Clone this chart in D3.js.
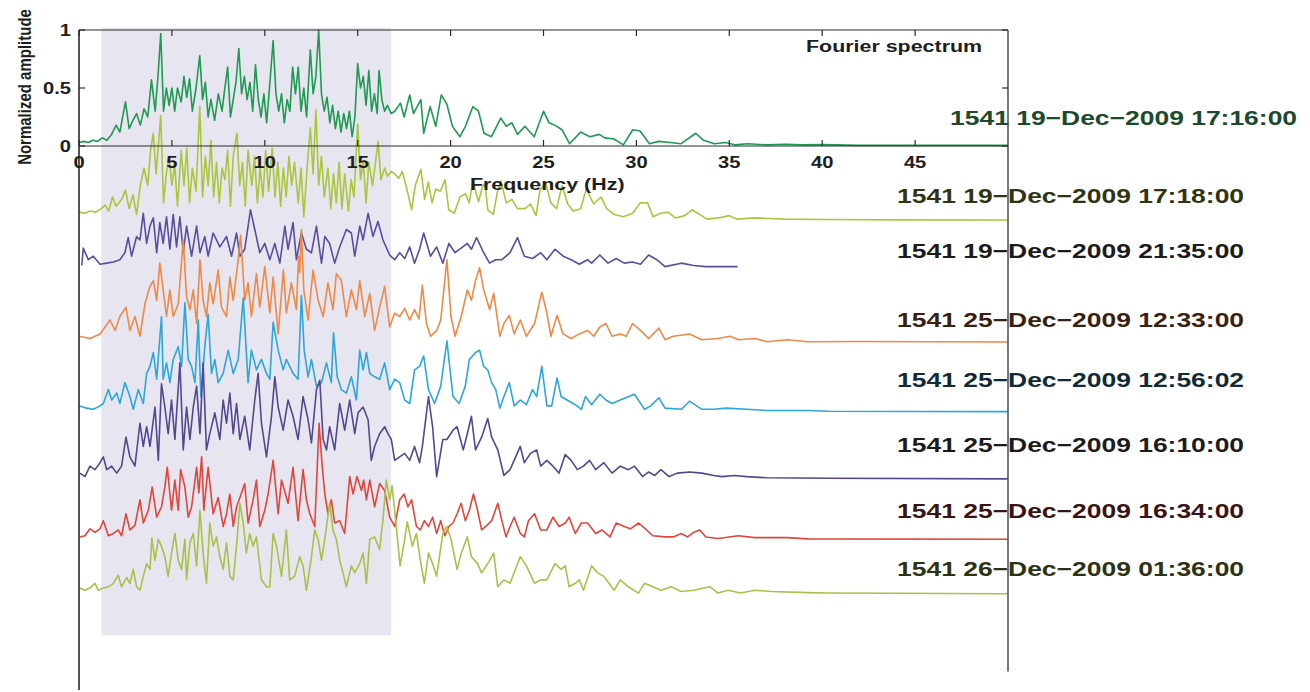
<!DOCTYPE html>
<html>
<head>
<meta charset="utf-8">
<script src="https://cdn.jsdelivr.net/npm/d3@7/dist/d3.min.js"></script>
<style>
  html, body { margin: 0; padding: 0; background: #fff; }
  svg { display: block; }
  text { font-family: "Liberation Sans", Arial, Helvetica, sans-serif; font-weight: bold; }
</style>
</head>
<body>
<svg id="chart" width="1310" height="692"></svg>
<script>
// Fourier spectra of station 1541 records, each normalised to its own maximum
// and stacked downwards as a waterfall. Values are [frequency (Hz), amplitude].

const spec1 = [[0,.03],[.25,.04],[.5,.03],[.75,.05],[1,.04],[1.25,.07],[1.5,.05],[1.75,.1],[2,.18],[2.2,.12],[2.5,.38],[2.7,.15],[2.9,.22],[3.1,.28],[3.3,.18],[3.5,.32],[3.7,.25],[3.9,.57],[4.1,.3],[4.25,.6],[4.4,.97],[4.55,.3],[4.7,.5],[4.85,.35],[5,.5],[5.15,.3],[5.3,.5],[5.5,.38],[5.65,.6],[5.8,.42],[5.95,.58],[6.1,.3],[6.3,.5],[6.5,.78],[6.65,.4],[6.8,.55],[6.95,.25],[7.1,.4],[7.3,.22],[7.5,.45],[7.7,.3],[7.85,.5],[8,.68],[8.15,.25],[8.3,.4],[8.45,.55],[8.6,.84],[8.75,.45],[8.9,.6],[9.05,.4],[9.2,.55],[9.35,.3],[9.5,.7],[9.65,.4],[9.8,.25],[9.95,.45],[10.1,.2],[10.25,.5],[10.45,.91],[10.6,.45],[10.75,.3],[10.9,.45],[11.05,.2],[11.2,.4],[11.35,.3],[11.5,.68],[11.65,.45],[11.8,.68],[11.95,.3],[12.1,.5],[12.25,.25],[12.45,.83],[12.6,.45],[12.75,.6],[12.9,1],[13.05,.45],[13.2,.3],[13.35,.42],[13.5,.2],[13.65,.35],[13.8,.15],[13.95,.3],[14.1,.12],[14.25,.28],[14.4,.15],[14.55,.3],[14.7,.08],[14.85,.25],[15,.71],[15.15,.5],[15.3,.6],[15.45,.35],[15.6,.65],[15.75,.3],[15.9,.45],[16.05,.28],[16.15,.65],[16.3,.4],[16.45,.3],[16.6,.35],[16.8,.28],[17,.3],[17.3,.37],[17.5,.25],[17.8,.44],[18,.28],[18.4,.4],[18.55,.11],[18.9,.34],[19.2,.17],[19.5,.44],[19.8,.36],[20.1,.17],[20.5,.08],[20.8,.17],[21.2,.34],[21.5,.3],[21.8,.11],[22.2,.08],[22.7,.24],[23,.17],[23.3,.2],[23.6,.1],[24,.17],[24.5,.08],[25,.3],[25.3,.2],[25.6,.18],[26,.14],[26.4,.02],[27,.12],[27.5,.08],[28,.1],[28.3,.07],[28.8,.06],[29.3,.01],[29.8,.14],[30.2,.13],[30.7,.02],[31.2,.04],[31.8,.03],[32.4,.02],[33.2,.11],[33.6,.05],[34.2,.02],[34.8,.03],[35.3,.01],[36,.02],[37,.01],[38,.015],[39,.01],[40,.012],[42,.005],[45,.005],[50,.005]];

const spec2 = [[0,.07],[.3,.06],[.6,.08],[.9,.07],[1.2,.1],[1.4,.13],[1.6,.08],[1.8,.2],[2,.12],[2.3,.18],[2.5,.26],[2.7,.1],[2.9,.22],[3.1,.05],[3.3,.3],[3.5,.45],[3.7,.3],[3.85,.6],[4,.75],[4.15,.4],[4.4,.9],[4.55,.15],[4.7,.4],[4.85,.55],[5,.3],[5.15,.48],[5.3,.12],[5.5,.6],[5.65,.3],[5.8,.62],[5.95,.15],[6.1,.45],[6.3,.25],[6.5,.98],[6.65,.2],[6.8,.55],[6.95,.3],[7.1,.69],[7.25,.2],[7.4,.5],[7.55,.15],[7.7,.45],[7.85,.35],[8,.6],[8.15,.12],[8.3,.55],[8.5,.75],[8.65,.3],[8.8,.5],[8.95,.12],[9.1,.6],[9.3,.3],[9.45,.55],[9.6,.15],[9.75,.45],[9.9,.2],[10.05,.6],[10.2,.25],[10.4,.62],[10.55,.2],[10.7,.5],[10.85,.12],[11,.45],[11.15,.2],[11.3,.55],[11.45,.3],[11.6,.5],[11.8,.15],[11.95,.45],[12.1,.03],[12.3,.5],[12.45,.8],[12.6,.4],[12.75,.95],[12.9,.3],[13.05,.55],[13.2,.2],[13.4,.45],[13.55,.1],[13.7,.4],[13.85,.15],[14,.5],[14.15,.1],[14.3,.4],[14.5,.08],[14.65,.35],[14.8,.2],[15,.83],[15.15,.35],[15.3,.5],[15.45,.15],[15.6,.5],[15.8,.3],[16.1,.68],[16.25,.35],[16.45,.45],[16.6,.38],[16.8,.42],[17,.4],[17.2,.36],[17.4,.42],[17.6,.3],[17.9,.09],[18.1,.3],[18.4,.44],[18.6,.18],[18.8,.33],[19,.15],[19.2,.27],[19.45,.25],[19.7,.35],[19.9,.09],[20.2,.06],[20.5,.2],[20.8,.23],[21,.15],[21.2,.34],[21.5,.16],[21.7,.28],[21.85,.32],[22,.09],[22.3,.05],[22.5,.23],[22.7,.34],[23,.15],[23.3,.18],[23.6,.1],[24,.1],[24.3,.14],[24.6,.04],[24.8,.25],[25.1,.33],[25.4,.15],[25.7,.1],[26,.3],[26.3,.14],[26.6,.08],[27,.1],[27.3,.27],[27.7,.14],[28.1,.2],[28.4,.1],[28.8,.05],[29.3,.03],[29.8,.06],[30.2,.15],[30.6,.15],[30.9,.03],[31.3,.06],[31.7,.07],[32.1,.02],[32.6,.04],[33,.09],[33.4,.05],[33.8,.01],[34.4,.02],[35,.04],[35.4,.01],[36.4,.02],[38,.01],[40,.006],[44,.003],[50,.002]];

const spec3 = [[.15,.02],[.23,.17],[.5,.07],[.77,.1],[1.13,.03],[1.49,.04],[1.85,.05],[2.2,.07],[2.47,.13],[2.65,.26],[2.83,.1],[3.1,.27],[3.28,.24],[3.46,.47],[3.64,.21],[3.82,.36],[4,.43],[4.18,.13],[4.35,.39],[4.53,.21],[4.71,.44],[4.89,.16],[5.07,.46],[5.25,.18],[5.43,.44],[5.61,.13],[5.79,.36],[6.06,.1],[6.33,.36],[6.51,.13],[6.77,.27],[6.95,.1],[7.22,.3],[7.58,.18],[7.94,.27],[8.21,.1],[8.48,.3],[8.66,.1],[8.92,.16],[9.23,.5],[9.46,.33],[9.73,.13],[10,.21],[10.27,.07],[10.54,.21],[10.81,.04],[11.08,.36],[11.25,.16],[11.52,.39],[11.7,.07],[11.97,.3],[12.24,.16],[12.51,.13],[12.78,.36],[13.05,.04],[13.23,.27],[13.49,.21],[13.76,.04],[14.03,.18],[14.39,.33],[14.66,.3],[14.84,.1],[15.11,.36],[15.29,.24],[15.56,.47],[15.82,.27],[16.09,.4],[16.36,.24],[16.72,.11],[16.99,.07],[17.26,.13],[17.53,.08],[17.8,.18],[18.06,.04],[18.33,.16],[18.55,.3],[18.92,.1],[19.25,.18],[19.58,.04],[19.91,.21],[20.24,.13],[20.57,.17],[20.9,.21],[21.12,.16],[21.4,.26],[21.78,.13],[22.1,.04],[22.43,.07],[22.76,.07],[23.2,.13],[23.6,.26],[23.97,.1],[24.41,.08],[24.85,.13],[25.18,.07],[25.62,.16],[26.06,.1],[26.49,.07],[26.93,.03],[27.37,.07],[27.59,.04],[28.03,.11],[28.47,.04],[28.91,.08],[29.35,.04],[29.79,.05],[30.22,.03],[30.66,.11],[31.1,.07],[31.54,.01],[32.42,.04],[33.08,.02],[33.74,.01],[35.45,.01]];

const spec4 = [[0,.05],[.59,.03],[1.13,.07],[1.4,.13],[1.67,.19],[1.94,.1],[2.2,.22],[2.53,.3],[2.74,.1],[3.01,.22],[3.28,.05],[3.55,.33],[3.82,.48],[4,.53],[4.18,.36],[4.35,.68],[4.53,.45],[4.71,.22],[4.89,.45],[5.07,.22],[5.34,.33],[5.61,.88],[5.79,.39],[5.97,.28],[6.15,.45],[6.33,.16],[6.51,.71],[6.68,.36],[6.86,.22],[7.04,.51],[7.22,.33],[7.49,.62],[7.67,.3],[7.94,.22],[8.12,.56],[8.3,.36],[8.57,.71],[8.7,.92],[8.92,.36],[9.1,.51],[9.28,.22],[9.55,.59],[9.73,.3],[10,.65],[10.27,.25],[10.45,.56],[10.72,.07],[11,.62],[11.16,.25],[11.43,.51],[11.7,.28],[11.82,.74],[11.88,.6],[11.97,.97],[12.1,.45],[12.33,.19],[12.6,.62],[12.87,.36],[13.14,.22],[13.4,.51],[13.67,.28],[13.85,.59],[14.12,.53],[14.39,.22],[14.66,.45],[14.93,.28],[15.11,.53],[15.38,.22],[15.65,.42],[15.91,.1],[16.18,.3],[16.45,.48],[16.72,.13],[16.99,.25],[17.26,.22],[17.53,.29],[17.8,.19],[18.06,.28],[18.3,.2],[18.48,.49],[18.7,.16],[18.92,.05],[19.25,.1],[19.47,.19],[19.8,.71],[20.02,.22],[20.24,.05],[20.57,.22],[20.9,.45],[21.12,.36],[21.34,.53],[21.56,.64],[21.78,.45],[22.1,.28],[22.32,.42],[22.65,.05],[22.87,.16],[23.16,.23],[23.42,.07],[23.75,.19],[24.08,.05],[24.52,.16],[24.91,.43],[25.18,.25],[25.4,.05],[25.73,.23],[26.05,.07],[26.49,.03],[26.93,.07],[27.37,.1],[27.7,.05],[28.03,.13],[28.36,.16],[28.69,.05],[29.13,.07],[29.46,.05],[29.79,.16],[30.22,.1],[30.66,.03],[31.21,.12],[31.54,.02],[31.98,.05],[32.86,.07],[33.52,.02],[34.39,.03],[35.05,.05],[35.49,.02],[36.37,.03],[37.03,.003],[38.12,.02],[39.22,.003],[42,.005],[50,0]];

const spec5 = [[0,.05],[.41,.03],[.77,.02],[1.13,.05],[1.31,.07],[1.58,.19],[1.76,.1],[2.03,.16],[2.2,.07],[2.47,.25],[2.74,.13],[2.92,.02],[3.19,.19],[3.46,.07],[3.64,.33],[3.82,.39],[4,.51],[4.18,.28],[4.44,.82],[4.53,.28],[4.71,.42],[4.89,.25],[5.07,.45],[5.34,.56],[5.52,.39],[5.7,.94],[5.88,.45],[6.06,.39],[6.24,.25],[6.42,.79],[6.56,.13],[6.77,.56],[6.95,.84],[7.13,.33],[7.31,.45],[7.49,.25],[7.76,.33],[8.03,.53],[8.3,.33],[8.57,.45],[8.84,.98],[9.1,.25],[9.28,.53],[9.55,.36],[9.82,.45],[10.09,.33],[10.27,.28],[10.45,.77],[10.72,.53],[10.99,.36],[11.16,.45],[11.52,.33],[11.79,.28],[11.97,1],[12.12,.53],[12.33,.3],[12.51,.45],[12.78,.22],[13.05,.25],[13.32,.42],[13.58,.25],[13.7,.68],[13.9,.3],[14.12,.19],[14.39,.16],[14.66,.3],[14.93,.1],[15.11,.53],[15.29,.36],[15.47,.51],[15.65,.33],[15.91,.3],[16.18,.28],[16.45,.42],[16.72,.19],[16.99,.28],[17.26,.25],[17.53,.1],[17.8,.07],[18.06,.36],[18.33,.39],[18.55,.48],[18.81,.19],[19.14,.07],[19.47,.22],[19.8,.61],[20.13,.13],[20.46,.07],[20.79,.22],[21.01,.45],[21.34,.51],[21.56,.53],[21.78,.39],[22,.36],[22.21,.25],[22.43,.19],[22.65,.03],[22.87,.13],[23.16,.25],[23.42,.05],[23.75,.1],[24.08,.06],[24.41,.19],[24.63,.13],[24.91,.39],[25.18,.05],[25.44,.05],[25.73,.29],[25.95,.13],[26.27,.1],[26.71,.06],[27.04,.02],[27.26,.13],[27.59,.06],[28.03,.15],[28.36,.1],[28.69,.07],[29.13,.1],[29.9,.15],[30.44,.02],[30.77,.05],[31.21,.12],[31.54,.03],[32.42,.02],[32.86,.09],[33.52,.02],[34.17,.02],[34.83,.03],[35.93,.02],[37.03,.01],[39.22,.01],[40.32,.003],[50,0]];

const spec6 = [[.05,.05],[.32,.02],[.59,.11],[.86,.08],[1.13,.14],[1.31,.19],[1.49,.08],[1.76,.11],[2.03,.05],[2.29,.11],[2.53,.36],[2.74,.19],[3.01,.11],[3.28,.48],[3.46,.28],[3.64,.45],[3.82,.28],[4.09,.62],[4.27,.16],[4.44,.82],[4.62,.62],[4.8,.39],[4.98,.68],[5.16,.34],[5.43,1],[5.61,.25],[5.79,.62],[5.97,.34],[6.15,.62],[6.33,.8],[6.51,.39],[6.68,1],[6.86,.25],[7.04,.39],[7.31,.57],[7.58,.34],[7.76,.68],[7.94,.48],[8.12,.74],[8.3,.39],[8.48,.65],[8.66,.34],[8.92,.54],[9.19,.25],[9.46,.68],[9.64,.91],[9.82,.48],[10.09,.19],[10.36,.54],[10.54,.88],[10.72,.62],[10.99,.42],[11.25,.68],[11.52,.54],[11.79,.34],[12.06,.71],[12.33,.51],[12.51,.31],[12.78,.77],[12.96,.85],[13.14,.34],[13.32,.25],[13.49,.45],[13.76,.25],[14.03,.65],[14.3,.42],[14.57,.68],[14.84,.39],[15.02,.57],[15.29,.62],[15.56,.51],[15.73,.16],[15.91,.28],[16.18,.39],[16.45,.45],[16.63,.39],[16.81,.34],[16.99,.16],[17.26,.19],[17.53,.22],[17.8,.16],[18.06,.28],[18.33,.14],[18.48,.28],[18.81,.71],[19.03,.45],[19.25,.02],[19.58,.34],[19.8,.34],[20.13,.42],[20.35,.45],[20.68,.25],[20.9,.39],[21.12,.54],[21.34,.25],[21.67,.36],[22,.52],[22.21,.36],[22.54,.25],[22.87,.03],[23.2,.08],[23.42,.16],[23.75,.28],[23.97,.14],[24.3,.22],[24.63,.25],[24.85,.11],[25.18,.16],[25.51,.11],[25.84,.05],[26.17,.21],[26.49,.16],[26.82,.08],[27.15,.11],[27.48,.16],[27.81,.08],[28.25,.14],[28.69,.05],[29.13,.11],[29.57,.08],[29.9,.11],[30.33,.02],[30.66,.06],[30.99,.03],[31.32,.08],[31.76,.02],[32.2,.05],[32.86,.06],[33.52,.05],[34.17,.03],[34.61,.02],[35.27,.03],[35.93,.02],[37.03,.01],[40.32,.006],[50,0]];

const spec7 = [[.05,.02],[.32,.03],[.59,.09],[.86,.06],[1.13,.09],[1.31,.16],[1.58,.03],[1.85,.05],[2.11,.08],[2.29,.03],[2.53,.22],[2.74,.08],[3.01,.12],[3.28,.34],[3.46,.14],[3.73,.25],[3.94,.45],[4.18,.19],[4.44,.28],[4.62,.45],[4.75,.62],[4.98,.25],[5.16,.51],[5.34,.25],[5.47,.6],[5.7,.45],[5.88,.19],[6.06,.28],[6.33,.62],[6.45,.4],[6.6,.71],[6.72,.25],[6.95,.62],[7.22,.22],[7.49,.36],[7.76,.11],[7.94,.22],[8.12,.39],[8.3,.11],[8.48,.28],[8.66,.36],[8.92,.48],[9.1,.14],[9.37,.34],[9.55,.51],[9.73,.11],[10,.25],[10.18,.39],[10.45,.68],[10.72,.22],[10.9,.51],[11.25,.31],[11.52,.62],[11.79,.16],[12.06,.6],[12.24,.34],[12.42,.22],[12.69,.11],[12.92,1],[13.08,.65],[13.23,.39],[13.4,.22],[13.58,.34],[13.76,.14],[14.03,.16],[14.3,.05],[14.57,.54],[14.75,.39],[14.96,.54],[15.2,.42],[15.32,.51],[15.47,.34],[15.65,.51],[15.91,.28],[16.18,.48],[16.45,.42],[16.72,.19],[16.99,.11],[17.26,.34],[17.5,.39],[17.7,.28],[17.9,.34],[18.16,.11],[18.37,.08],[18.59,.16],[18.81,.11],[19.03,.19],[19.25,.05],[19.47,.16],[19.69,.03],[19.91,.11],[20.13,.14],[20.35,.22],[20.57,.31],[20.79,.16],[21.01,.25],[21.23,.39],[21.45,.25],[21.67,.08],[21.89,.11],[22.21,.16],[22.54,.31],[22.76,.16],[22.98,.02],[23.2,.11],[23.42,.19],[23.75,.05],[23.97,.02],[24.19,.16],[24.52,.22],[24.85,.08],[25.18,.08],[25.51,.19],[25.84,.11],[26.17,.14],[26.38,.19],[26.71,.05],[27.04,.14],[27.37,.14],[27.81,.05],[28.14,.08],[28.58,.02],[28.91,.14],[29.35,.11],[29.68,.09],[30.12,.14],[30.55,.08],[30.88,.03],[31.54,.02],[31.98,.02],[32.42,.05],[32.75,.02],[33.08,.06],[33.41,.08],[33.74,.02],[34.39,.006],[35.49,.03],[36.37,.014],[38.12,.014],[39.22,.003],[50,0]];

const spec8 = [[.05,.05],[.32,.03],[.59,.05],[.86,.09],[1.04,.03],[1.31,.05],[1.58,.06],[1.85,.09],[2.11,.16],[2.29,.06],[2.56,.14],[2.74,.09],[2.92,.21],[3.1,.06],[3.28,.03],[3.46,.15],[3.64,.26],[3.82,.21],[3.92,.48],[4.09,.29],[4.27,.47],[4.44,.41],[4.62,.32],[4.8,.15],[4.98,.35],[5.16,.52],[5.34,.29],[5.52,.21],[5.7,.47],[5.79,.12],[5.97,.44],[6.15,.52],[6.33,.24],[6.51,.72],[6.68,.35],[6.86,.09],[7.04,.61],[7.22,.41],[7.4,.49],[7.58,.32],[7.76,.21],[7.94,.44],[8.12,.15],[8.3,.12],[8.48,.41],[8.66,.78],[8.84,.61],[9.01,.35],[9.19,.52],[9.37,.41],[9.55,.49],[9.82,.12],[10.09,.06],[10.27,.06],[10.45,.52],[10.63,.41],[10.9,.15],[11.16,.55],[11.34,.12],[11.61,.15],[11.88,.32],[12.06,.24],[12.24,.03],[12.51,.32],[12.69,.55],[12.87,.47],[13.05,.29],[13.23,.47],[13.49,.78],[13.67,.55],[13.85,.47],[14.03,.29],[14.21,.18],[14.39,.06],[14.66,.24],[14.84,.18],[15.11,.26],[15.29,.35],[15.47,.09],[15.65,.47],[15.91,.49],[16.18,.38],[16.36,.64],[16.54,.98],[16.72,.81],[16.85,.93],[17.06,.61],[17.28,.24],[17.5,.44],[17.67,.62],[17.94,.41],[18.16,.52],[18.37,.29],[18.59,.09],[18.81,.35],[19.03,.26],[19.25,.15],[19.58,.52],[19.8,.58],[20.02,.47],[20.35,.21],[20.57,.35],[20.9,.49],[21.12,.32],[21.45,.26],[21.67,.18],[22,.26],[22.32,.35],[22.54,.06],[22.87,.12],[23.2,.09],[23.75,.32],[24.08,.24],[24.52,.09],[24.85,.12],[25.18,.12],[25.62,.26],[25.95,.21],[26.17,.24],[26.38,.06],[26.71,.09],[26.93,.12],[27.15,.03],[27.59,.24],[27.92,.18],[28.25,.15],[28.8,.03],[29.13,.12],[29.57,.06],[30.11,.006],[30.44,.09],[30.88,.06],[31.32,.03],[31.87,.06],[32.42,.02],[33.08,.03],[33.96,.06],[34.39,.006],[34.94,.03],[35.6,.006],[36.37,.03],[37.25,.02],[39.22,.01],[40.32,.006],[50,0]];

const spectra = [spec1, spec2, spec3, spec4, spec5, spec6, spec7, spec8];
const recordLabels = [
  "1541 19\u2212Dec\u22122009 17:16:00",
  "1541 19\u2212Dec\u22122009 17:18:00",
  "1541 19\u2212Dec\u22122009 21:35:00",
  "1541 25\u2212Dec\u22122009 12:33:00",
  "1541 25\u2212Dec\u22122009 12:56:02",
  "1541 25\u2212Dec\u22122009 16:10:00",
  "1541 25\u2212Dec\u22122009 16:34:00",
  "1541 26\u2212Dec\u22122009 01:36:00"
];
// vertical offset of each stacked spectrum, in normalised-amplitude units
const traceOffsets = [0, -0.64, -1.05, -1.69, -2.29, -2.87, -3.39, -3.86];
const freqTicks = [0, 5, 10, 15, 20, 25, 30, 35, 40, 45];
const ampTicks = [0, 0.5, 1];
const ampTickLabels = ["0", "0.5", "1"];
// dominant frequency band highlighted behind the spectra
const bandFreq = [1.2, 16.8];
const bandAmp = [-4.22, 1.02];

const traceColors = ["#1f9a52", "#a9c63f", "#5a4d9d", "#ed8a47", "#2ba7d9", "#55478f", "#e0463c", "#a6c24a"];
const labelColors = ["#1c4a2c", "#2f3514", "#1b1b1b", "#3b1f10", "#0f2b37", "#1b1b1b", "#3a1313", "#2b3314"];

const svg = d3.select("#chart");
const x = d3.scaleLinear().domain([0, 50]).range([79, 1008]);
const y = d3.scaleLinear().domain([0, 1]).range([146, 30]);
const STRETCH = 1.26;

function label(g, px, py, str, size, anchor, color) {
  return g.append("text")
    .attr("transform", `translate(${px},${py}) scale(${STRETCH},1)`)
    .attr("text-anchor", anchor)
    .attr("font-size", size)
    .attr("fill", color)
    .text(str);
}

// highlighted band
svg.append("rect")
  .attr("x", x(bandFreq[0]))
  .attr("y", y(bandAmp[1]))
  .attr("width", x(bandFreq[1]) - x(bandFreq[0]))
  .attr("height", y(bandAmp[0]) - y(bandAmp[1]))
  .attr("fill", "#e7e5ef");

// spectra, first record at the back
const line = d3.line().x(d => x(d[0])).y(d => d[1]);
spectra.forEach((s, i) => {
  svg.append("path")
    .attr("d", line(s.map(p => [p[0], y(p[1] + traceOffsets[i])])))
    .attr("fill", "none")
    .attr("stroke", traceColors[i])
    .attr("stroke-width", 1.6)
    .attr("stroke-linejoin", "round");
});

// axes box of the top spectrum
const axisG = svg.append("g").attr("stroke", "#2a2a2a").attr("stroke-width", 1.2);
axisG.append("line").attr("x1", x(0)).attr("x2", x(50)).attr("y1", y(1)).attr("y2", y(1));
axisG.append("line").attr("x1", x(0)).attr("x2", x(50)).attr("y1", y(0)).attr("y2", y(0));
axisG.append("line").attr("x1", x(0)).attr("x2", x(0)).attr("y1", y(1)).attr("y2", y(-4.69)).attr("stroke-width", 1.6);
axisG.append("line").attr("x1", x(50)).attr("x2", x(50)).attr("y1", y(1)).attr("y2", y(-4.53)).attr("stroke", "#555").attr("stroke-width", 1.6);

// inward ticks
freqTicks.forEach(f => {
  axisG.append("line").attr("x1", x(f)).attr("x2", x(f)).attr("y1", y(0)).attr("y2", y(0) - 6);
  axisG.append("line").attr("x1", x(f)).attr("x2", x(f)).attr("y1", y(1)).attr("y2", y(1) + 6);
});
ampTicks.forEach(a => {
  axisG.append("line").attr("x1", x(0)).attr("x2", x(0) + 6).attr("y1", y(a)).attr("y2", y(a));
  axisG.append("line").attr("x1", x(50)).attr("x2", x(50) - 6).attr("y1", y(a)).attr("y2", y(a));
});

// tick labels
freqTicks.forEach(f => label(svg, x(f), 168, String(f), 16, "middle", "#1e1e1e"));
ampTicks.forEach((a, i) => label(svg, 71, y(a) + 6, ampTickLabels[i], 16, "end", "#1e1e1e"));

// axis titles
label(svg, x(25.2), 190, "Frequency (Hz)", 17, "middle", "#1e1e1e");
label(svg, 806, 52, "Fourier spectrum", 17, "start", "#1e1e1e");
svg.append("text")
  .attr("transform", "translate(31,87) rotate(-90) scale(1,1.22)")
  .attr("text-anchor", "middle")
  .attr("font-size", 15)
  .attr("fill", "#1e1e1e")
  .text("Normalized amplitude");

// record labels
const labelBaselines = [125, 203, 258, 327, 387, 452, 518, 576];
recordLabels.forEach((t, i) => {
  label(svg, i === 0 ? 950 : 897, labelBaselines[i], t, 21, "start", labelColors[i]);
});
</script>
</body>
</html>
